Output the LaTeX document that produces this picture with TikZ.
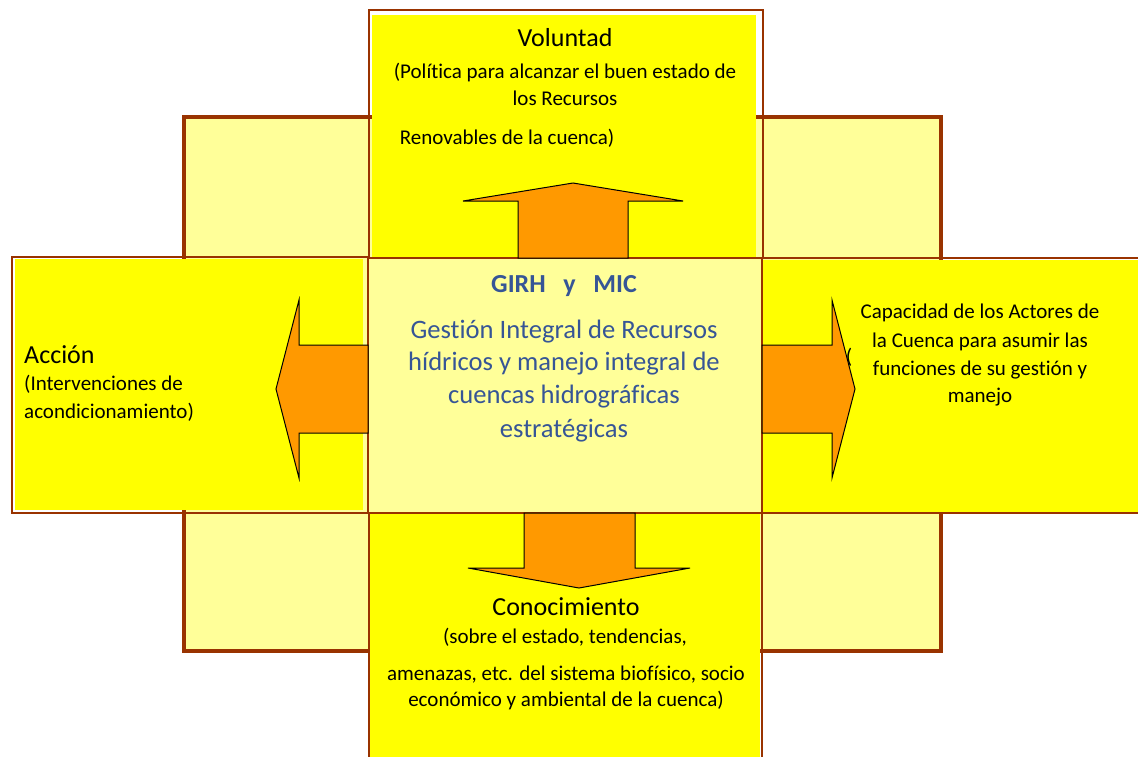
\documentclass[tikz,border=0pt]{standalone}
\usepackage{fontspec}
\setmainfont{Carlito}[Ligatures=NoCommon]
\definecolor{frame}{HTML}{993300}
\definecolor{pale}{HTML}{FFFF99}
\definecolor{lemon}{HTML}{FFFF00}
\definecolor{orng}{HTML}{FF9900}
\definecolor{navy}{RGB}{54,85,150}
\tikzset{
  outer/.style={draw=frame, line width=4pt, fill=pale},
  box/.style={draw=frame, line width=2.6pt},
  blockarrow/.style={fill=orng, draw=black, line width=1pt, line join=miter},
  title/.style={font=\fontsize{26}{30}\selectfont, inner sep=0pt, anchor=base},
  body/.style={font=\fontsize{21}{27}\selectfont, inner sep=0pt, anchor=base},
  bluehead/.style={font=\fontsize{26}{30}\selectfont\bfseries, text=navy, inner sep=0pt, anchor=base},
  bluebody/.style={font=\fontsize{26.6}{30}\selectfont, text=navy, inner sep=0pt, anchor=base},
}
\begin{document}
\begin{tikzpicture}[x=1pt,y=-1pt]
\useasboundingbox (0,0) rectangle (1138,756);
\clip (0,0) rectangle (1138,756);
\fill[white] (0,0) rectangle (1138,756);

% pale backdrop square
\draw[outer] (184,117) rectangle (941,651);

% yellow panels
\fill[lemon] (372,15) rectangle (756,258);
\fill[lemon] (15,259) rectangle (363,510);
\fill[lemon] (763,260) rectangle (1145,512);
\fill[lemon] (370,513) rectangle (760,770);
\fill[pale] (369,258) rectangle (762,513);

% panel outlines
\draw[box] (369,10) rectangle (763,258);
\draw[box] (12,257) rectangle (368,513);
\draw[box] (762,258) rectangle (1150,513);
\draw[box] (369,513) rectangle (762,775);

% stray bracket behind the right arrow
\node[body] (stray) at (849,363) {(};

% block arrows
\draw[blockarrow] (518,258) -- (518,201) -- (463,201) -- (573,183) -- (683,201) -- (628,201) -- (628,258) -- cycle;
\draw[blockarrow] (524,513) -- (524,568) -- (468,568) -- (579,588) -- (690,568) -- (635,568) -- (635,513) -- cycle;
\draw[blockarrow] (368,345) -- (299,345) -- (299,300) -- (276,389) -- (299,478) -- (299,433) -- (368,433) -- cycle;
\draw[blockarrow] (762,345) -- (832,345) -- (832,300) -- (855,389) -- (832,478) -- (832,433) -- (762,433) -- cycle;

% top panel
\node[title] (vol) at (565,46) {Voluntad};
\node[body] (vol1) at (565,78) {(Política para alcanzar el buen estado de};
\node[body] (vol2) at (565,105) {los Recursos};
\node[body] (vol3) at (507,144) {Renovables de la cuenca)};

% left panel
\node[title, anchor=base west] (acc) at (24,363) {Acción};
\node[body, anchor=base west] (acc1) at (24,390) {(Intervenciones de};
\node[body, anchor=base west] (acc2) at (24,418) {acondicionamiento)};

% right panel
\node[body] (cap1) at (980,318) {Capacidad de los Actores de};
\node[body] (cap2) at (980,347) {la Cuenca para asumir las};
\node[body] (cap3) at (980,375) {funciones de su gestión y};
\node[body] (cap4) at (980,402) {manejo};

% bottom panel
\node[title] (con) at (566,615) {Conocimiento};
\node[body] (con1) at (565,643) {(sobre el estado, tendencias,};
\node[body] (con2) at (566,680) {amenazas, etc. del sistema biofísico, socio};
\node[body] (con3) at (566,706) {económico y ambiental de la cuenca)};

% centre panel
\node[bluehead] (girh) at (564,292) {GIRH\ \ \ y\ \ \ MIC};
\node[bluebody] (g1) at (564,338) {Gestión Integral de Recursos};
\node[bluebody] (g2) at (564,370) {hídricos y manejo integral de};
\node[bluebody] (g3) at (564,403) {cuencas hidrográficas};
\node[bluebody] (g4) at (564,437) {estratégicas};
\end{tikzpicture}
\end{document}
